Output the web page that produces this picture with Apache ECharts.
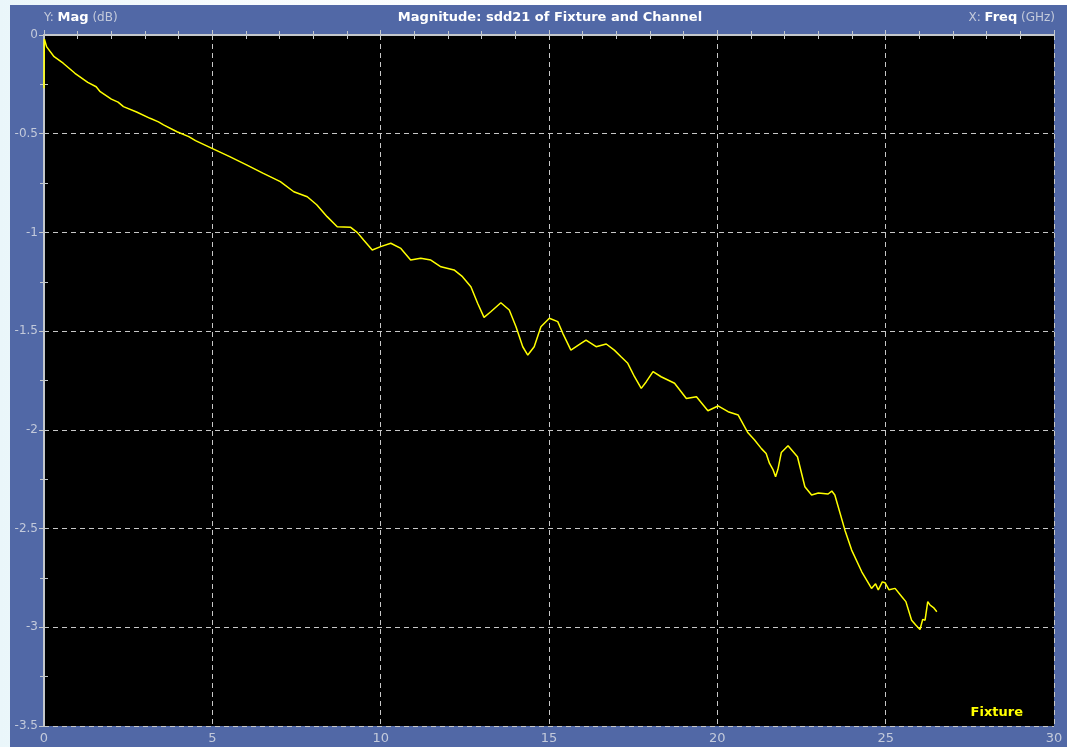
<!DOCTYPE html>
<html>
<head>
<meta charset="utf-8">
<title>Magnitude: sdd21 of Fixture and Channel</title>
<script src="https://cdn.jsdelivr.net/npm/echarts@6/dist/echarts.min.js"></script>
<style>
  html, body { margin: 0; padding: 0; }
  body { width: 1078px; height: 747px; background: linear-gradient(90deg, #eaf6fa 0%, #f6fbfd 20%, #ffffff 60%); overflow: hidden; }
  #chart { width: 1078px; height: 747px; }
</style>
</head>
<body>
<div id="chart"></div>
<script>
// Measured differential insertion loss (sdd21) of the test fixture
const seriesName = 'Fixture';
const freqGHz = [
  0, 0.01, 0.08, 0.3, 0.57, 0.92, 1.3, 1.55, 1.67, 2.0, 2.2, 2.36, 2.75, 3.15, 3.4, 3.55, 3.95, 4.3, 4.5, 4.99,
  5.5, 6.03, 6.5, 7.02, 7.42, 7.82, 8.1, 8.41, 8.71, 9.11, 9.31, 9.5, 9.75, 10.0, 10.3, 10.6,
  10.89, 11.19, 11.49, 11.79, 12.18, 12.43, 12.68, 12.88, 13.07, 13.27, 13.57, 13.82, 14.02, 14.22,
  14.37, 14.56, 14.76, 15.01, 15.26, 15.41, 15.65, 15.95, 16.1, 16.4, 16.7, 16.94, 17.14, 17.34,
  17.54, 17.74, 17.89, 18.09, 18.33, 18.73, 19.08, 19.38, 19.72, 20.02, 20.32, 20.62, 20.91, 21.1,
  21.31, 21.45, 21.55, 21.65, 21.73, 21.8, 21.9, 22.1, 22.38, 22.6, 22.8, 23.0, 23.29, 23.4, 23.49, 23.79,
  23.99, 24.29, 24.58, 24.7, 24.78, 24.9, 24.98, 25.1, 25.28, 25.48, 25.6, 25.77, 25.9, 26.02, 26.1, 26.17,
  26.25, 26.32, 26.42, 26.52
];
const magDb = [
  -0.27, -0.02, -0.06, -0.11, -0.143, -0.194, -0.24, -0.262, -0.287, -0.325, -0.34, -0.363, -0.39, -0.422, -0.44, -0.455, -0.49, -0.515, -0.535, -0.574,
  -0.615, -0.659, -0.70, -0.743, -0.794, -0.819, -0.86, -0.92, -0.971, -0.974, -1.001, -1.04, -1.089, -1.072, -1.055, -1.081,
  -1.14, -1.131, -1.14, -1.174, -1.19, -1.224, -1.275, -1.359, -1.43, -1.402, -1.356, -1.393, -1.478, -1.579,
  -1.621, -1.579, -1.478, -1.435, -1.452, -1.511, -1.596, -1.562, -1.545, -1.579, -1.565, -1.596, -1.63, -1.663,
  -1.731, -1.79, -1.756, -1.705, -1.731, -1.764, -1.841, -1.832, -1.903, -1.879, -1.908, -1.925, -2.015, -2.05,
  -2.095, -2.12, -2.17, -2.2, -2.237, -2.2, -2.115, -2.08, -2.136, -2.288, -2.33, -2.32, -2.325, -2.31, -2.33, -2.508,
  -2.609, -2.719, -2.803, -2.78, -2.811, -2.77, -2.774, -2.81, -2.803, -2.845, -2.87, -2.964, -2.99, -3.011, -2.96, -2.964,
  -2.87, -2.888, -2.9, -2.921
];
const xTicks = [0, 5, 10, 15, 20, 25, 30];
const yTicks = [0, -0.5, -1, -1.5, -2, -2.5, -3, -3.5];

const panelBlue = '#5168a6';
const frameGray = '#c4c8cc';
const labelGray = '#c3cadb';
const font = 'DejaVu Sans';

const chart = echarts.init(document.getElementById('chart'), null, { renderer: 'canvas' });

const frameAxis = {
  axisLine: { show: true, lineStyle: { color: frameGray, width: 2 } },
  axisTick: { show: true, inside: true, length: 5, lineStyle: { color: frameGray, width: 1 } },
  minorTick: { show: true, length: 4, lineStyle: { color: frameGray, width: 1 } },
  splitLine: { show: false },
  axisLabel: { show: false }
};

chart.setOption({
  animation: false,
  backgroundColor: 'transparent',
  graphic: [
    {
      type: 'rect', z: -10, silent: true,
      shape: { x: 10, y: 5, width: 1057, height: 742 },
      style: { fill: panelBlue }
    },
    {
      type: 'text', x: 44, y: 18, z: 10,
      style: {
        text: '{a|Y: }{b|Mag}{a| (dB)}',
        verticalAlign: 'middle',
        rich: {
          a: { fill: labelGray, fontFamily: font, fontSize: 12 },
          b: { fill: '#ffffff', fontFamily: font, fontSize: 13, fontWeight: 'bold' }
        }
      }
    },
    {
      type: 'text', x: 550, y: 18, z: 10,
      style: {
        text: 'Magnitude: sdd21 of Fixture and Channel',
        align: 'center', verticalAlign: 'middle',
        fill: '#ffffff', fontFamily: font, fontSize: 13, fontWeight: 'bold'
      }
    },
    {
      type: 'text', x: 1055, y: 18, z: 10,
      style: {
        text: '{a|X: }{b|Freq}{a| (GHz)}',
        align: 'right', verticalAlign: 'middle',
        rich: {
          a: { fill: labelGray, fontFamily: font, fontSize: 12 },
          b: { fill: '#ffffff', fontFamily: font, fontSize: 13, fontWeight: 'bold' }
        }
      }
    }
  ],
  legend: {
    show: true,
    data: [seriesName],
    icon: 'none',
    itemWidth: 0,
    itemGap: 0,
    padding: 0,
    right: 55,
    bottom: 28,
    textStyle: { color: '#ffff00', fontFamily: font, fontSize: 13, fontWeight: 'bold' }
  },
  grid: {
    left: 44, right: 24, top: 35, bottom: 21,
    containLabel: false,
    outerBoundsMode: 'none',
    show: true,
    backgroundColor: '#000000',
    borderWidth: 0
  },
  xAxis: [
    Object.assign({}, frameAxis, {
      type: 'value', position: 'bottom', min: 0, max: 30, interval: 5,
      minorTick: { show: true, splitNumber: 5, length: 4, lineStyle: { color: frameGray, width: 1 } },
      splitLine: { show: true, lineStyle: { color: '#c8c8c8', width: 1, type: [5, 4] } },
      axisLabel: {
        show: true, color: labelGray, fontFamily: font, fontSize: 13, margin: 6,
        formatter: v => (xTicks.includes(v) ? String(v) : '')
      }
    }),
    Object.assign({}, frameAxis, {
      type: 'value', position: 'top', min: 0, max: 30, interval: 5,
      minorTick: { show: true, splitNumber: 5, length: 4, lineStyle: { color: frameGray, width: 1 } }
    })
  ],
  yAxis: [
    Object.assign({}, frameAxis, {
      type: 'value', position: 'left', min: -3.5, max: 0, interval: 0.5,
      minorTick: { show: true, splitNumber: 2, length: 4, lineStyle: { color: frameGray, width: 1 } },
      splitLine: { show: true, lineStyle: { color: '#c8c8c8', width: 1, type: [5, 4] } },
      axisLabel: {
        show: true, color: labelGray, fontFamily: font, fontSize: 12, margin: 6,
        formatter: v => {
          const t = yTicks.find(y => Math.abs(y - v) < 1e-9);
          return t === undefined ? '' : String(t);
        }
      }
    }),
    Object.assign({}, frameAxis, {
      type: 'value', position: 'right', min: -3.5, max: 0, interval: 0.5,
      minorTick: { show: true, splitNumber: 2, length: 4, lineStyle: { color: frameGray, width: 1 } }
    })
  ],
  series: [
    {
      name: seriesName,
      type: 'line',
      xAxisIndex: 0,
      yAxisIndex: 0,
      showSymbol: false,
      symbol: 'none',
      smooth: false,
      color: '#ffff00',
      lineStyle: { color: '#ffff00', width: 1.5 },
      data: freqGHz.map((f, i) => [f, magDb[i]])
    }
  ]
});
</script>
</body>
</html>
